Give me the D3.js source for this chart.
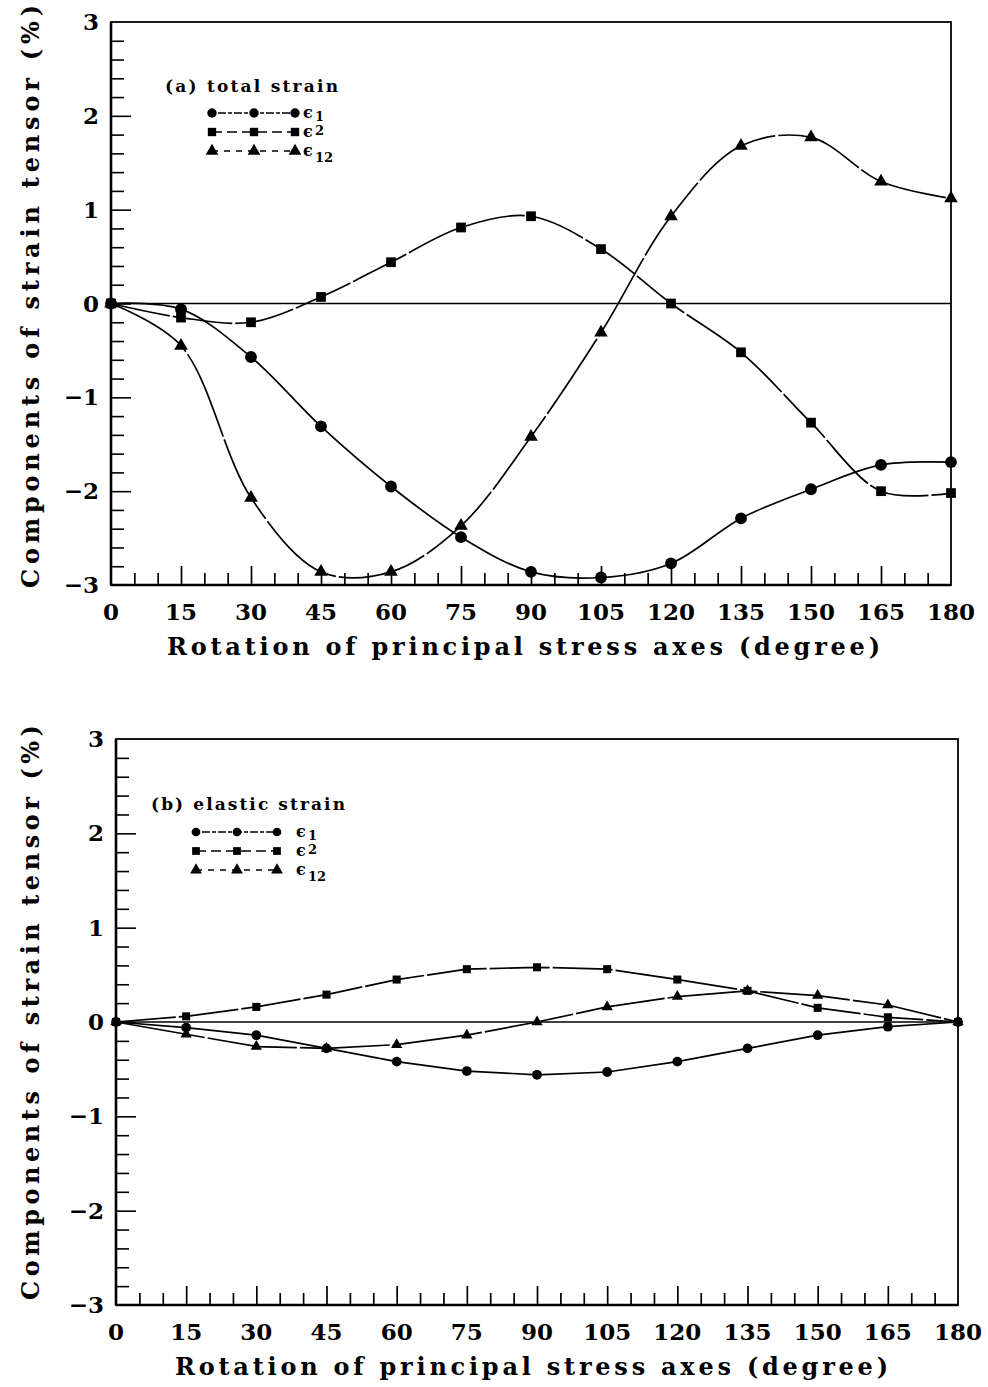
<!DOCTYPE html>
<html>
<head>
<meta charset="utf-8">
<script src="https://cdn.jsdelivr.net/npm/d3@7"></script>
<style>
  html, body { margin: 0; padding: 0; background: #fff; }
  svg { display: block; }
  text { font-family: "DejaVu Serif", "Liberation Serif", serif; fill: #000; }
</style>
</head>
<body>
<svg id="fig" width="988" height="1387"></svg>
<script>
// Rotation angle of the principal stress axes (degree)
const degrees = [0, 15, 30, 45, 60, 75, 90, 105, 120, 135, 150, 165, 180];

// (a) total strain components (%)
const totalE1  = [0, -0.06, -0.57, -1.31, -1.95, -2.49, -2.86, -2.92, -2.77, -2.29, -1.98, -1.72, -1.69];
const totalE2  = [0, -0.15, -0.20, 0.07, 0.44, 0.81, 0.93, 0.58, 0.00, -0.52, -1.27, -2.00, -2.02];
const totalE12 = [0, -0.45, -2.07, -2.86, -2.86, -2.37, -1.42, -0.31, 0.93, 1.68, 1.77, 1.30, 1.12];

// (b) elastic strain components (%)
const elasticE1  = [0, -0.06, -0.14, -0.28, -0.42, -0.52, -0.56, -0.53, -0.42, -0.28, -0.14, -0.05, 0];
const elasticE2  = [0, 0.06, 0.16, 0.29, 0.45, 0.56, 0.58, 0.56, 0.45, 0.33, 0.15, 0.05, 0];
const elasticE12 = [0, -0.13, -0.26, -0.28, -0.24, -0.14, 0.00, 0.16, 0.27, 0.33, 0.28, 0.18, 0];

// Axis ticks and labels
const xTickLabels = [0, 15, 30, 45, 60, 75, 90, 105, 120, 135, 150, 165, 180];
const yTickLabels = [-3, -2, -1, 0, 1, 2, 3];
const xTitle = "Rotation of principal stress axes   (degree)";
const yTitle = "Components of strain tensor   (%)";
const seriesNames = ["1", "2", "12"];

const svg = d3.select("#fig");

function drawPanel(cfg) {
  const x = d3.scaleLinear().domain([0, 180]).range([cfg.left, cfg.right]);
  const y = d3.scaleLinear().domain([-3, 3]).range([cfg.bottom, cfg.top]);
  const g = svg.append("g");

  // Frame
  g.append("rect")
    .attr("x", cfg.left).attr("y", cfg.top)
    .attr("width", cfg.right - cfg.left).attr("height", cfg.bottom - cfg.top)
    .attr("fill", "none").attr("stroke", "#000").attr("stroke-width", 1.8);
  g.append("line")
    .attr("x1", cfg.left).attr("x2", cfg.left)
    .attr("y1", cfg.top).attr("y2", cfg.bottom)
    .attr("stroke", "#000").attr("stroke-width", 2.6);
  g.append("line")
    .attr("x1", cfg.left).attr("x2", cfg.right)
    .attr("y1", cfg.bottom).attr("y2", cfg.bottom)
    .attr("stroke", "#000").attr("stroke-width", 2.4);

  // Inward ticks on bottom axis: every 5 degrees, longer every 15
  const xMinor = d3.range(5, 180, 5);
  const xAxis = d3.axisBottom(x).tickValues(xMinor).tickSize(0).tickFormat("");
  const xa = g.append("g").attr("transform", `translate(0,${cfg.bottom})`).call(xAxis);
  xa.select(".domain").remove();
  xa.selectAll(".tick line").remove();
  xa.selectAll(".tick").append("line")
    .attr("y1", 0)
    .attr("y2", d => (d % 15 === 0 ? -19 : -12))
    .attr("stroke", "#000").attr("stroke-width", 1.7);

  // Inward ticks on left axis: every 0.2, longer at integers
  const yMinor = d3.range(-2.8, 3.0, 0.2).map(v => Math.round(v * 10) / 10);
  const yAxis = d3.axisLeft(y).tickValues(yMinor).tickSize(0).tickFormat("");
  const ya = g.append("g").attr("transform", `translate(${cfg.left},0)`).call(yAxis);
  ya.select(".domain").remove();
  ya.selectAll(".tick line").remove();
  ya.selectAll(".tick").append("line")
    .attr("x1", 0)
    .attr("x2", d => (Math.abs(d - Math.round(d)) < 1e-6 ? 20 : 13))
    .attr("stroke", "#000").attr("stroke-width", 1.6);

  // Tick labels
  g.selectAll(".xl").data(xTickLabels).join("text")
    .attr("x", d => x(d))
    .attr("y", cfg.bottom + 35)
    .attr("text-anchor", "middle")
    .attr("font-size", 23).attr("font-weight", "bold")
    .text(d => d);
  g.selectAll(".yl").data(yTickLabels).join("text")
    .attr("x", cfg.left - 12)
    .attr("y", d => y(d) + 8)
    .attr("text-anchor", "end")
    .attr("font-size", 23).attr("font-weight", "bold")
    .text(d => (d < 0 ? "\u2212" + Math.abs(d) : d));

  // Axis titles
  g.append("text")
    .attr("x", cfg.xTitleX).attr("y", cfg.bottom + 70)
    .attr("font-size", 24).attr("font-weight", "bold")
    .attr("textLength", cfg.xTitleLen).attr("lengthAdjust", "spacing")
    .text(xTitle);
  g.append("text")
    .attr("transform", `translate(39,${cfg.yTitleStart}) rotate(-90)`)
    .attr("font-size", 24).attr("font-weight", "bold")
    .attr("textLength", cfg.yTitleLen).attr("lengthAdjust", "spacing")
    .text(yTitle);

  // Zero reference line
  g.append("line")
    .attr("x1", x(0)).attr("x2", x(180))
    .attr("y1", y(0)).attr("y2", y(0))
    .attr("stroke", "#000").attr("stroke-width", 1.4);

  // Strain curves
  const line = d3.line()
    .x((d, i) => x(degrees[i]))
    .y(d => y(d))
    .curve(cfg.curve);
  const dashes = ["none", "60,3", "90,3"];
  cfg.series.forEach((vals, k) => {
    g.append("path")
      .attr("d", line(vals))
      .attr("fill", "none").attr("stroke", "#000")
      .attr("stroke-width", 1.7)
      .attr("stroke-dasharray", dashes[k]);
  });

  // Markers
  const symbols = [d3.symbolCircle, d3.symbolSquare, d3.symbolTriangle];
  cfg.series.forEach((vals, k) => {
    const sym = d3.symbol().type(symbols[k]).size(cfg.markerSize[k]);
    g.selectAll(null).data(vals).join("path")
      .attr("transform", (d, i) => `translate(${x(degrees[i])},${y(d)})`)
      .attr("d", sym)
      .attr("fill", "#000");
  });

  // Legend
  const L = cfg.legend;
  g.append("text")
    .attr("x", L.titleX).attr("y", L.titleY)
    .attr("font-size", 17).attr("font-weight", "bold")
    .attr("textLength", L.titleLen).attr("lengthAdjust", "spacing")
    .text(L.title);
  const legendDash = ["4,2,8,2", "10,5", "6,6"];
  const subDy = [3, -2, 6];
  seriesNames.forEach((name, k) => {
    const ry = L.rowY[k];
    g.append("line")
      .attr("x1", L.markX[0]).attr("x2", L.markX[2])
      .attr("y1", ry).attr("y2", ry)
      .attr("stroke", "#000").attr("stroke-width", 1.3)
      .attr("stroke-dasharray", legendDash[k]);
    const sym = d3.symbol().type(symbols[k]).size(L.markerSize);
    L.markX.forEach(mx => {
      g.append("path")
        .attr("transform", `translate(${mx},${ry})`)
        .attr("d", sym).attr("fill", "#000");
    });
    g.append("text")
      .attr("x", L.epsX).attr("y", ry + 5)
      .attr("font-size", 16).attr("font-weight", "bold")
      .text("\u03F5");
    g.append("text")
      .attr("x", L.epsX + 12).attr("y", ry + 5 + subDy[k])
      .attr("font-size", 13).attr("font-weight", "bold")
      .text(name);
  });
}

drawPanel({
  left: 111, right: 951, top: 22, bottom: 585,
  curve: d3.curveCatmullRom.alpha(0.5),
  series: [totalE1, totalE2, totalE12],
  markerSize: [110, 95, 80],
  xTitleX: 167, xTitleLen: 713,
  yTitleStart: 588, yTitleLen: 583,
  legend: {
    title: "(a) total strain", titleX: 165, titleY: 92, titleLen: 173,
    rowY: [113, 132, 151], markX: [212, 254, 295], epsX: 303, markerSize: 70
  }
});

drawPanel({
  left: 116, right: 958, top: 739, bottom: 1305,
  curve: d3.curveLinear,
  series: [elasticE1, elasticE2, elasticE12],
  markerSize: [75, 65, 55],
  xTitleX: 175, xTitleLen: 713,
  yTitleStart: 1300, yTitleLen: 575,
  legend: {
    title: "(b) elastic strain", titleX: 151, titleY: 810, titleLen: 194,
    rowY: [832, 851, 870], markX: [196, 237, 277], epsX: 296, markerSize: 60
  }
});
</script>
</body>
</html>
